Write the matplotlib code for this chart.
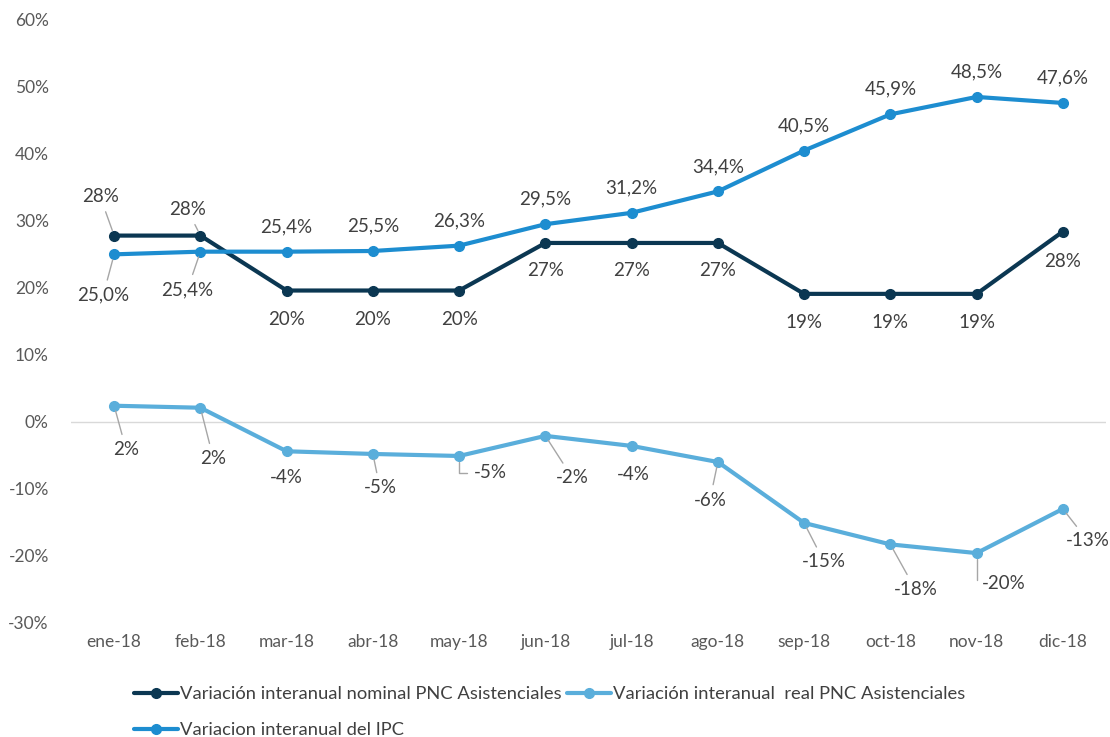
import matplotlib.pyplot as plt
import numpy as np

plt.rcParams['font.family'] = ['Lato', 'DejaVu Sans']

months = ['ene-18', 'feb-18', 'mar-18', 'abr-18', 'may-18', 'jun-18',
          'jul-18', 'ago-18', 'sep-18', 'oct-18', 'nov-18', 'dic-18']

nominal = [27.8, 27.8, 19.6, 19.6, 19.6, 26.7, 26.7, 26.7, 19.1, 19.1, 19.1, 28.4]
real = [2.4, 2.1, -4.4, -4.8, -5.1, -2.1, -3.6, -6.0, -15.1, -18.3, -19.6, -13.0]
ipc = [25.0, 25.4, 25.4, 25.5, 26.3, 29.5, 31.2, 34.4, 40.5, 45.9, 48.5, 47.6]

nominal_lbl = ['28%', '28%', '20%', '20%', '20%', '27%', '27%', '27%', '19%', '19%', '19%', '28%']
real_lbl = ['2%', '2%', '-4%', '-5%', '-5%', '-2%', '-4%', '-6%', '-15%', '-18%', '-20%', '-13%']
ipc_lbl = ['25,0%', '25,4%', '25,4%', '25,5%', '26,3%', '29,5%', '31,2%', '34,4%',
           '40,5%', '45,9%', '48,5%', '47,6%']

c_nom = '#0b3752'
c_real = '#5aaedb'
c_ipc = '#1d8dd0'
c_txt = '#404040'
c_lead = '#a6a6a6'

# label offsets in pixels (dx, dy), leader line flag
nom_off = [(-14, 39, True), (-13, 26, True)] + [(0, -29, False)] * 3 + [(0, -28, False)] * 3 \
    + [(0, -29, False)] * 3 + [(0, -30, False)]
ipc_off = [(-11, -41, True), (-13, -38, True)] + [(0, 25, False)] * 10
real_off = [(12, -44, True), (13, -51, True), (0, -26, False), (7, -34, True), (31, -17, 'elbow'),
            (27, -42, True), (2, -29, False), (-8, -38, True), (20, -39, True), (25, -45, True),
            (27, -30, 'elbow'), (25, -32, True)]

fig, ax = plt.subplots(figsize=(11.1, 7.37), dpi=100)
fig.subplots_adjust(left=0.064, right=0.9964, top=0.973, bottom=0.155)

x = np.arange(len(months))
l1, = ax.plot(x, nominal, color=c_nom, lw=3, marker='o', ms=7, solid_capstyle='round',
              label='Variación interanual nominal PNC Asistenciales', zorder=3)
l2, = ax.plot(x, real, color=c_real, lw=3, marker='o', ms=7, solid_capstyle='round',
              label='Variación interanual  real PNC Asistenciales', zorder=3)
l3, = ax.plot(x, ipc, color=c_ipc, lw=3, marker='o', ms=7, solid_capstyle='round',
              label='Variacion interanual del IPC', zorder=3)


def label_series(vals, labels, offs):
    for xi, v, lab, (dx, dy, lead) in zip(x, vals, labels, offs):
        props = None
        if lead == 'elbow':
            props = dict(arrowstyle='-', color=c_lead, lw=1, shrinkA=3, shrinkB=4,
                         connectionstyle='angle,angleA=0,angleB=90,rad=0')
        elif lead:
            props = dict(arrowstyle='-', color=c_lead, lw=1, shrinkA=3, shrinkB=4)
        ax.annotate(lab, (xi, v), xytext=(dx, dy), textcoords='offset pixels',
                    ha='center', va='center', fontsize=13.5, color=c_txt,
                    arrowprops=props, zorder=4, annotation_clip=False)


label_series(nominal, nominal_lbl, nom_off)
label_series(ipc, ipc_lbl, ipc_off)
label_series(real, real_lbl, real_off)

ax.set_xlim(-0.5, len(months) - 0.5)
ax.set_ylim(-30, 60)
ax.set_yticks(np.arange(-30, 61, 10))
ax.set_yticklabels([f'{t}%' for t in range(-30, 61, 10)])
ax.set_xticks(x)
ax.set_xticklabels(months)
ax.tick_params(length=0, labelsize=12.5, labelcolor='#595959', pad=8)
ax.tick_params(axis='y', pad=16)
ax.axhline(0, color='#d9d9d9', lw=1, zorder=1)
for s in ax.spines.values():
    s.set_visible(False)

leg = ax.legend([l1, l3, l2], [l1.get_label(), l3.get_label(), l2.get_label()],
                ncol=2, loc='upper left', bbox_to_anchor=(0.045, -0.078), frameon=False,
                fontsize=13.2, handlelength=2.4, handletextpad=0.1, columnspacing=0.3,
                labelspacing=1.1, labelcolor='#404040')

fig.savefig('out.png')
